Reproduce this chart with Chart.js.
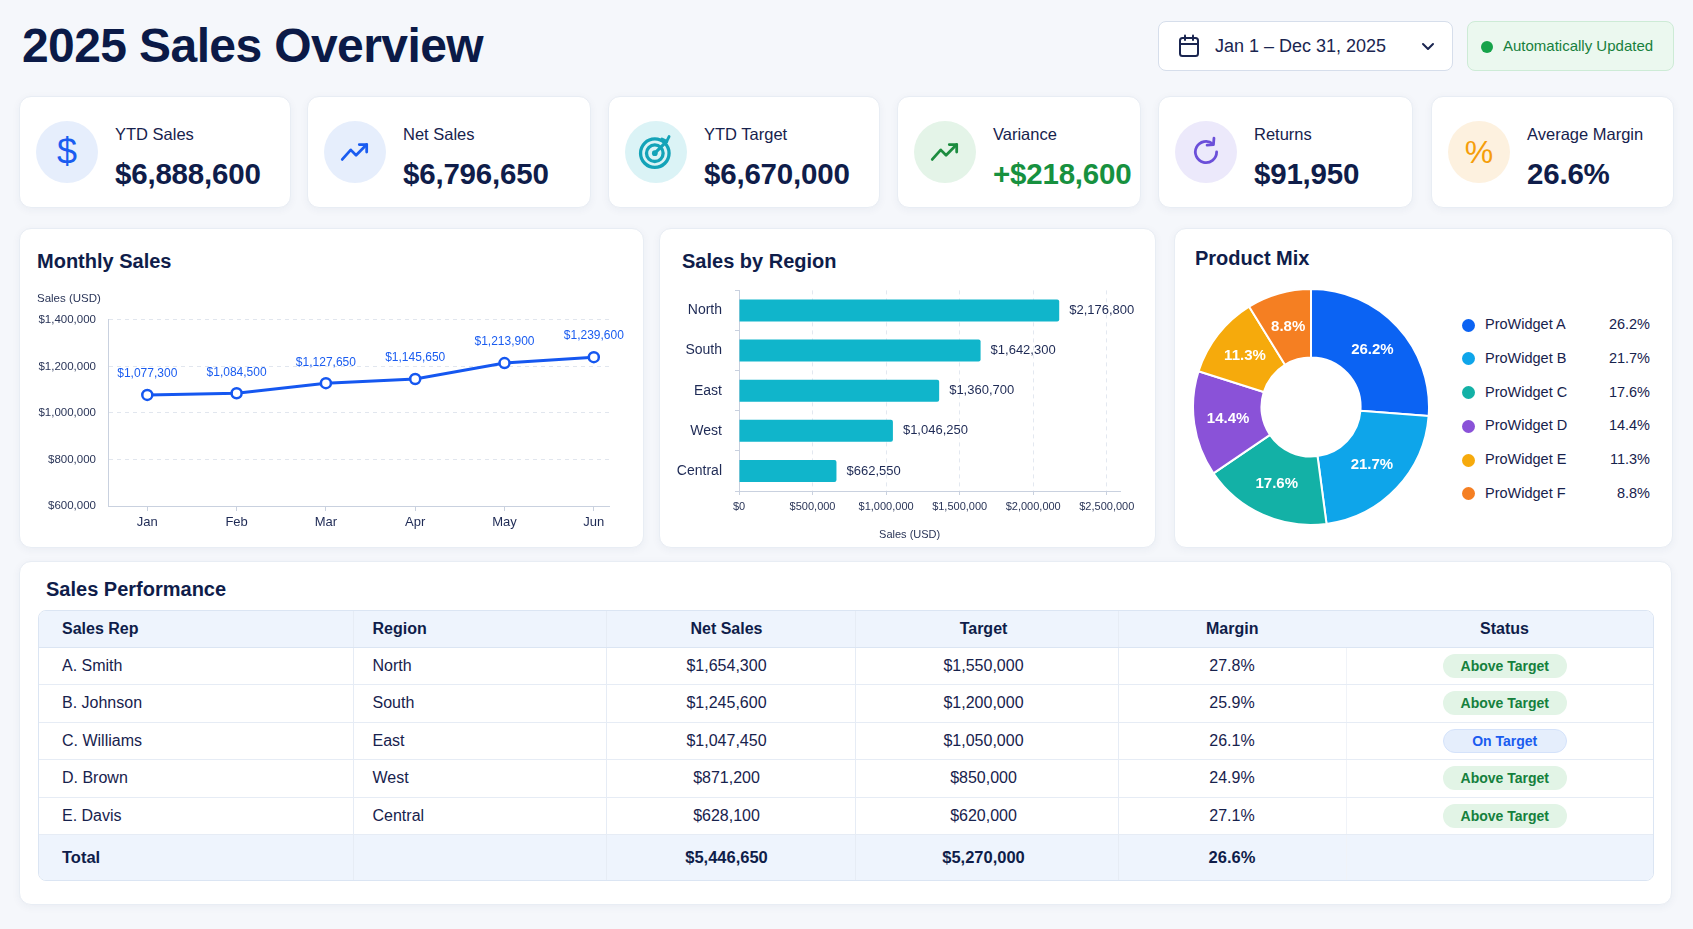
<!DOCTYPE html>
<html>
<head>
<meta charset="utf-8">
<title>2025 Sales Overview</title>
<script src="https://cdn.jsdelivr.net/npm/chart.js@4.4.1/dist/chart.umd.min.js"></script>
<style>
  * { box-sizing: border-box; }
  body { margin: 0; width: 1693px; height: 929px; background: #f5f7fb; font-family: 'Liberation Sans', Arial, sans-serif; color: #0f1d4a; position: relative; overflow: hidden; }
  h1 { position: absolute; left: 22px; top: 18px; margin: 0; font-size: 48px; line-height: 56px; font-weight: 700; letter-spacing: -0.6px; color: #0b1a47; }
  .card { position: absolute; background: #fff; border: 1px solid #e8edf4; border-radius: 12px; box-shadow: 0 2px 8px rgba(30, 50, 100, 0.05); }

  .date { position: absolute; left: 1158px; top: 21px; width: 295px; height: 50px; background: #fff; border: 1px solid #d6deeb; border-radius: 8px; }
  .date svg.cal { position: absolute; left: 19px; top: 12px; }
  .date span { position: absolute; left: 56px; top: 0; line-height: 48px; font-size: 18px; color: #1a2550; }
  .date svg.chev { position: absolute; left: 262px; top: 18px; }
  .auto { position: absolute; left: 1467px; top: 21px; width: 207px; height: 50px; background: #ebf8ef; border: 1px solid #cdebd6; border-radius: 8px; }
  .auto i { position: absolute; left: 13px; top: 19px; width: 12px; height: 12px; border-radius: 50%; background: #16a34a; }
  .auto span { position: absolute; left: 35px; top: 0; line-height: 48px; font-size: 15px; color: #17803d; }

  .kpi { top: 96px; height: 112px; }
  .kpi .ic { position: absolute; left: 16px; top: 24px; width: 62px; height: 62px; border-radius: 50%; display: flex; align-items: center; justify-content: center; }
  .kpi .lb { position: absolute; left: 95px; top: 24px; line-height: 26px; font-size: 16.5px; color: #17224d; }
  .kpi .vl { position: absolute; left: 95px; top: 60px; line-height: 34px; font-size: 29.5px; font-weight: 700; color: #0f1d4a; letter-spacing: -0.2px; }

  .ctitle { position: absolute; font-size: 20px; line-height: 24px; font-weight: 700; color: #0f1d4a; }
  .box { position: absolute; }

  .legend { position: absolute; left: 1462px; top: 308px; width: 190px; }
  .legend .row { position: relative; height: 33.8px; line-height: 33.8px; font-size: 14.5px; color: #17224d; }
  .legend .row i { position: absolute; left: 0; top: 10.5px; width: 13px; height: 13px; border-radius: 50%; }
  .legend .row .nm { position: absolute; left: 23px; }
  .legend .row .pc { position: absolute; right: 2px; }

  .twrap { position: absolute; left: 38px; top: 610px; width: 1616px; border: 1px solid #dbe5f3; border-radius: 8px; overflow: hidden; }
  table { border-collapse: collapse; width: 100%; table-layout: fixed; font-size: 16px; color: #17224d; }
  th { background: #eef4fd; height: 36px; font-weight: 700; color: #0f1d4a; border-bottom: 1px solid #dbe5f3; }
  td { height: 37.5px; border-bottom: 1px solid #e6ecf5; }
  th, td { padding: 0; text-align: center; }
  th:nth-child(1), td:nth-child(1) { text-align: left; padding-left: 23px; }
  th:nth-child(2), td:nth-child(2) { text-align: left; padding-left: 19px; }
  th:nth-child(3), td:nth-child(3) { padding-right: 8px; }
  th:nth-child(4), td:nth-child(4) { padding-right: 6px; }
  th:nth-child(6), td:nth-child(6) { padding-left: 8px; }
  th:nth-child(2), td:nth-child(2), th:nth-child(3), td:nth-child(3), th:nth-child(4), td:nth-child(4), th:nth-child(5), td:nth-child(5) { border-left: 1px solid #e6ecf5; }
  td:nth-child(6) { border-left: 1px solid #f0f3f8; }
  tr.total td { background: #eef4fd; height: 45px; font-weight: 700; color: #0f1d4a; border-bottom: none; font-size: 16.5px; }
  .badge { display: inline-block; width: 124px; height: 24px; line-height: 24px; border-radius: 12px; font-size: 14px; font-weight: 700; }
  .badge.above { background: #e2f4e6; color: #15803d; }
  .badge.on { background: #e5eefc; color: #1a5cf0; border: 1px solid #d4e2fa; line-height: 22px; }
</style>
</head>
<body>

<h1>2025 Sales Overview</h1>

<div class="date">
  <svg class="cal" width="22" height="24" viewBox="0 0 22 24"><rect x="2" y="4" width="18" height="18" rx="2.5" fill="none" stroke="#1a2550" stroke-width="2"/><line x1="2" y1="10" x2="20" y2="10" stroke="#1a2550" stroke-width="2"/><line x1="7" y1="1.5" x2="7" y2="6" stroke="#1a2550" stroke-width="2" stroke-linecap="round"/><line x1="15" y1="1.5" x2="15" y2="6" stroke="#1a2550" stroke-width="2" stroke-linecap="round"/></svg>
  <span>Jan 1 – Dec 31, 2025</span>
  <svg class="chev" width="14" height="14" viewBox="0 0 14 14"><polyline points="2,4 7,9 12,4" fill="none" stroke="#1a2550" stroke-width="2" stroke-linecap="round" stroke-linejoin="round"/></svg>
</div>
<div class="auto"><i></i><span>Automatically Updated</span></div>

<div class="card kpi" style="left:19px;width:272px">
  <div class="ic" style="background:#e6eefc"><span style="font-size:36px;color:#1a5cf0">$</span></div>
  <div class="lb">YTD Sales</div><div class="vl">$6,888,600</div>
</div>
<div class="card kpi" style="left:307px;width:284px">
  <div class="ic" style="background:#e6eefc"><svg width="34" height="34" viewBox="0 0 32 32"><polyline points="4,23 12,14 17,19 27,9" fill="none" stroke="#1a5cf0" stroke-width="2.6" stroke-linecap="round" stroke-linejoin="round"/><polyline points="20,9 27,9 27,16" fill="none" stroke="#1a5cf0" stroke-width="2.6" stroke-linecap="round" stroke-linejoin="round"/></svg></div>
  <div class="lb">Net Sales</div><div class="vl">$6,796,650</div>
</div>
<div class="card kpi" style="left:608px;width:272px">
  <div class="ic" style="background:#dbf3f6"><svg width="38" height="38" viewBox="0 0 32 32"><circle cx="15" cy="17" r="12" fill="none" stroke="#14a3b8" stroke-width="2.8"/><circle cx="15" cy="17" r="7" fill="none" stroke="#14a3b8" stroke-width="2.8"/><circle cx="15" cy="17" r="2.4" fill="#14a3b8"/><line x1="15" y1="17" x2="25" y2="7" stroke="#14a3b8" stroke-width="2.6" stroke-linecap="round"/><polyline points="21,5 25,7 27,3" fill="none" stroke="#14a3b8" stroke-width="2.4" stroke-linecap="round"/></svg></div>
  <div class="lb">YTD Target</div><div class="vl">$6,670,000</div>
</div>
<div class="card kpi" style="left:897px;width:244px">
  <div class="ic" style="background:#e4f4e8"><svg width="34" height="34" viewBox="0 0 32 32"><polyline points="4,23 12,14 17,19 27,9" fill="none" stroke="#1c8c3f" stroke-width="2.6" stroke-linecap="round" stroke-linejoin="round"/><polyline points="20,9 27,9 27,16" fill="none" stroke="#1c8c3f" stroke-width="2.6" stroke-linecap="round" stroke-linejoin="round"/></svg></div>
  <div class="lb">Variance</div><div class="vl" style="color:#17913f">+$218,600</div>
</div>
<div class="card kpi" style="left:1158px;width:255px">
  <div class="ic" style="background:#ece9fb"><svg width="34" height="34" viewBox="0 0 32 32"><path d="M26 16 A10 10 0 1 1 22.5 8.4" fill="none" stroke="#6b4fd9" stroke-width="2.6" stroke-linecap="round"/><polyline points="23.5,3 23,9 17,9.5" fill="none" stroke="#6b4fd9" stroke-width="2.6" stroke-linecap="round" stroke-linejoin="round"/></svg></div>
  <div class="lb">Returns</div><div class="vl">$91,950</div>
</div>
<div class="card kpi" style="left:1431px;width:243px">
  <div class="ic" style="background:#fdf1df"><span style="font-size:32px;color:#f59e0b">%</span></div>
  <div class="lb">Average Margin</div><div class="vl">26.6%</div>
</div>

<div class="card" style="left:19px;top:228px;width:625px;height:320px"></div>
<div class="ctitle" style="left:37px;top:249px">Monthly Sales</div>
<div class="box" style="left:33px;top:288px;width:596px;height:250px"><canvas id="monthly"></canvas></div>

<div class="card" style="left:659px;top:228px;width:497px;height:320px"></div>
<div class="ctitle" style="left:682px;top:249px">Sales by Region</div>
<div class="box" style="left:662px;top:269px;width:488px;height:277px"><canvas id="region"></canvas></div>

<div class="card" style="left:1174px;top:228px;width:499px;height:320px"></div>
<div class="ctitle" style="left:1195px;top:246px">Product Mix</div>
<div class="box" style="left:1192px;top:288px;width:238px;height:238px"><canvas id="mix"></canvas></div>
<div class="legend" id="legend"></div>

<div class="card" style="left:19px;top:561px;width:1653px;height:344px"></div>
<div class="ctitle" style="left:46px;top:577px">Sales Performance</div>
<div class="twrap">
  <table>
    <colgroup><col style="width:314px"><col style="width:253px"><col style="width:249px"><col style="width:263px"><col style="width:228px"><col style="width:309px"></colgroup>
    <thead><tr><th>Sales Rep</th><th>Region</th><th>Net Sales</th><th>Target</th><th>Margin</th><th>Status</th></tr></thead>
    <tbody id="rows"></tbody>
  </table>
</div>

<script>
const months = ['Jan', 'Feb', 'Mar', 'Apr', 'May', 'Jun'];
const monthlySales = [1077300, 1084500, 1127650, 1145650, 1213900, 1239600];

const regions = ['North', 'South', 'East', 'West', 'Central'];
const regionSales = [2176800, 1642300, 1360700, 1046250, 662550];
const regionTicks = [0, 500000, 1000000, 1500000, 2000000, 2500000];

const products = ['ProWidget A', 'ProWidget B', 'ProWidget C', 'ProWidget D', 'ProWidget E', 'ProWidget F'];
const productShare = [26.2, 21.7, 17.6, 14.4, 11.3, 8.8];
const productColors = ['#0b63f3', '#0ea5ea', '#13b1a6', '#8a52d8', '#f6aa0c', '#f57f22'];

const reps = ['A. Smith', 'B. Johnson', 'C. Williams', 'D. Brown', 'E. Davis'];
const repRegions = ['North', 'South', 'East', 'West', 'Central'];
const repNetSales = [1654300, 1245600, 1047450, 871200, 628100];
const repTargets = [1550000, 1200000, 1050000, 850000, 620000];
const repMargins = [27.8, 25.9, 26.1, 24.9, 27.1];
const repStatus = ['Above Target', 'Above Target', 'On Target', 'Above Target', 'Above Target'];
const totalMargin = 26.6;

const money = (v) => '$' + v.toLocaleString('en-US');
const fontFamily = "'Liberation Sans', Arial, sans-serif";

Chart.defaults.font.family = fontFamily;
Chart.defaults.color = '#2a3558';

// legend + table
document.getElementById('legend').innerHTML = products.map((p, i) =>
  `<div class="row"><i style="background:${productColors[i]}"></i><span class="nm">${p}</span><span class="pc">${productShare[i]}%</span></div>`
).join('');

const rowsHtml = reps.map((rep, i) => `
  <tr>
    <td>${rep}</td><td>${repRegions[i]}</td>
    <td>${money(repNetSales[i])}</td><td>${money(repTargets[i])}</td>
    <td>${repMargins[i]}%</td>
    <td><span class="badge ${repStatus[i] === 'On Target' ? 'on' : 'above'}">${repStatus[i]}</span></td>
  </tr>`).join('');
const totalNet = repNetSales.reduce((a, b) => a + b, 0);
const totalTarget = repTargets.reduce((a, b) => a + b, 0);
document.getElementById('rows').innerHTML = rowsHtml +
  `<tr class="total"><td>Total</td><td></td><td>${money(totalNet)}</td><td>${money(totalTarget)}</td><td>${totalMargin}%</td><td></td></tr>`;

// Monthly Sales line
const pointLabels = {
  id: 'pointLabels',
  afterDatasetsDraw(chart) {
    const ctx = chart.ctx;
    ctx.save();
    ctx.font = '12px ' + fontFamily;
    ctx.fillStyle = '#1a5cf0';
    ctx.textAlign = 'center';
    ctx.textBaseline = 'middle';
    chart.getDatasetMeta(0).data.forEach((pt, i) => {
      ctx.fillText(money(monthlySales[i]), pt.x, pt.y - 21);
    });
    ctx.restore();
  }
};

new Chart(document.getElementById('monthly'), {
  type: 'line',
  data: {
    datasets: [{
      data: months.map((m, i) => ({ x: i, y: monthlySales[i] })),
      borderColor: '#1557f0',
      borderWidth: 3,
      pointRadius: 5,
      pointBorderWidth: 2.5,
      pointBackgroundColor: '#fff',
      pointBorderColor: '#1557f0',
      tension: 0
    }]
  },
  options: {
    responsive: true,
    maintainAspectRatio: false,
    animation: false,
    layout: { padding: { left: 4, right: 20, top: 0, bottom: 0 } },
    plugins: {
      legend: { display: false },
      tooltip: { enabled: false },
      title: { display: true, text: 'Sales (USD)', align: 'start', font: { size: 11.5, weight: 'normal' }, color: '#2a3558', padding: { top: 4, bottom: 14 } }
    },
    scales: {
      x: {
        type: 'linear', min: -0.44, max: 5.17,
        afterFit: (s) => { s.height = 32; },
        border: { color: '#c9d1df' },
        grid: { drawOnChartArea: false, tickLength: 5, color: '#c9d1df' },
        ticks: { stepSize: 1, includeBounds: false, padding: 4, font: { size: 13 }, color: '#1e2a55', callback: (v) => months[v] ?? '' }
      },
      y: {
        min: 600000, max: 1400000,
        afterFit: (s) => { s.width = 71; },
        border: { color: '#c9d1df', dash: [4, 4] },
        grid: { color: '#e1e6ee', drawTicks: false },
        ticks: { stepSize: 200000, padding: 12, font: { size: 11.5 }, color: '#2a3558', callback: (v) => money(v) }
      }
    }
  },
  plugins: [pointLabels]
});

// Sales by Region bars
const barLabels = {
  id: 'barLabels',
  afterDatasetsDraw(chart) {
    const ctx = chart.ctx;
    ctx.save();
    ctx.font = '13px ' + fontFamily;
    ctx.fillStyle = '#1e2a55';
    ctx.textAlign = 'left';
    ctx.textBaseline = 'middle';
    chart.getDatasetMeta(0).data.forEach((bar, i) => {
      ctx.fillText(money(regionSales[i]), bar.x + 10, bar.y);
    });
    ctx.restore();
  }
};

new Chart(document.getElementById('region'), {
  type: 'bar',
  data: {
    labels: regions,
    datasets: [{
      data: regionSales,
      backgroundColor: '#10b5cb',
      borderRadius: 2,
      barPercentage: 0.55,
      categoryPercentage: 1
    }]
  },
  options: {
    indexAxis: 'y',
    responsive: true,
    maintainAspectRatio: false,
    animation: false,
    layout: { padding: { left: 6, right: 30, top: 0, bottom: 0 } },
    plugins: { legend: { display: false }, tooltip: { enabled: false } },
    scales: {
      x: {
        min: 0, max: 2590000,
        afterBuildTicks: (s) => { s.ticks = regionTicks.map((v) => ({ value: v })); },
        afterFit: (s) => { s.height = 55; },
        border: { color: '#c9d1df', dash: [4, 4] },
        grid: { color: '#e3e8f0', tickLength: 4, tickColor: '#c9d1df' },
        ticks: { padding: 5, font: { size: 11 }, color: '#2a3558', callback: (v) => money(v) },
        // trailing spaces nudge the centred title left, as in the original
        title: { display: true, text: 'Sales (USD)' + '\u00a0'.repeat(13), font: { size: 11 }, color: '#2a3558', padding: { top: 13, bottom: 4.4 } }
      },
      y: {
        afterFit: (s) => { s.width = 71; },
        border: { color: '#c9d1df' },
        grid: { drawOnChartArea: false, tickLength: 4, color: '#c9d1df' },
        ticks: { padding: 13, font: { size: 14 }, color: '#1e2a55' }
      }
    }
  },
  plugins: [barLabels]
});

// Product Mix doughnut
const sliceLabels = {
  id: 'sliceLabels',
  afterDatasetsDraw(chart) {
    const ctx = chart.ctx;
    ctx.save();
    ctx.font = 'bold 15px ' + fontFamily;
    ctx.fillStyle = '#fff';
    ctx.textAlign = 'center';
    ctx.textBaseline = 'middle';
    chart.getDatasetMeta(0).data.forEach((arc, i) => {
      const p = arc.tooltipPosition();
      ctx.fillText(productShare[i] + '%', p.x, p.y);
    });
    ctx.restore();
  }
};

new Chart(document.getElementById('mix'), {
  type: 'doughnut',
  data: {
    labels: products,
    datasets: [{
      data: productShare,
      backgroundColor: productColors,
      borderColor: '#fff',
      borderWidth: 2,
      hoverOffset: 0
    }]
  },
  options: {
    cutout: '42%',
    responsive: true,
    maintainAspectRatio: false,
    animation: false,
    plugins: { legend: { display: false }, tooltip: { enabled: false } }
  },
  plugins: [sliceLabels]
});
</script>
</body>
</html>
